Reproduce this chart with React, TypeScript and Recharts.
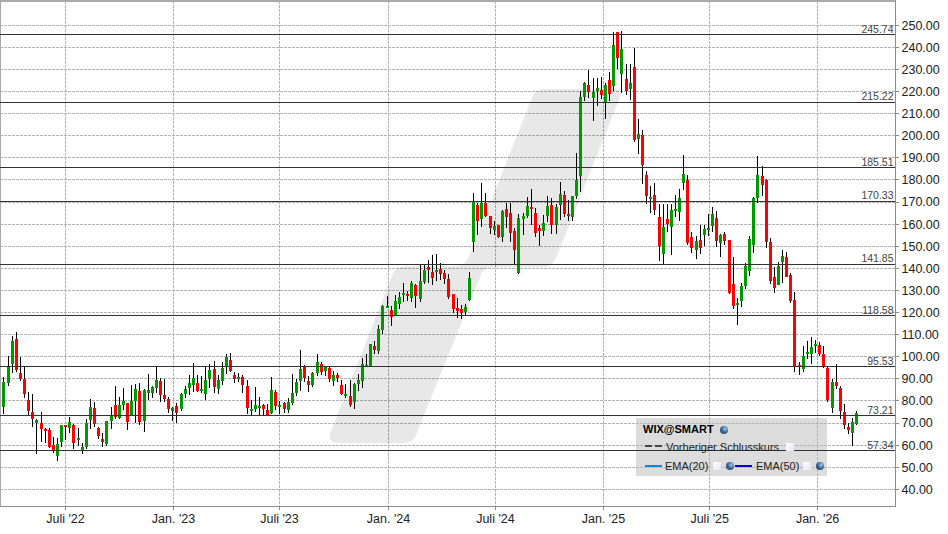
import { Bar, CartesianGrid, ComposedChart, ReferenceArea, ReferenceLine, XAxis, YAxis } from "recharts";

const opens = [
  77.2, 87.9, 96.7, 108.0, 92.6, 89.9, 80.4, 75.0, 70.1, 70.0, 67.3, 66.8, 59.9, 55.1, 61.4, 69.1,
  67.9, 68.9, 62.3, 57.6, 59.0, 71.3, 76.8, 67.9, 62.8, 60.5, 70.9, 78.1, 72.1, 78.1, 79.0, 73.3,
  79.9, 84.6, 70.9, 83.7, 83.6, 85.8, 89.0, 82.7, 80.8, 75.4, 77.7, 76.3, 83.1, 85.8, 87.2, 88.1,
  84.5, 83.1, 89.9, 94.4, 85.4, 89.0, 95.8, 98.5, 91.7, 89.9, 90.8, 86.7, 75.4, 76.3, 76.8, 78.1,
  75.9, 74.5, 84.0, 77.2, 79.0, 75.9, 79.0, 83.6, 89.0, 95.3, 89.0, 87.2, 92.6, 96.7, 93.5, 94.9,
  89.0, 91.7, 87.2, 82.2, 82.2, 79.5, 87.6, 89.0, 95.8, 95.8, 104.8, 102.6, 112.2, 122.1, 121.2, 118.9,
  123.9, 128.0, 128.4, 126.6, 132.5, 126.2, 133.9, 140.7, 138.4, 138.4, 139.7, 137.9, 135.2, 128.4, 122.1, 121.6,
  120.3, 125.7, 152.0, 168.7, 162.4, 169.6, 163.7, 157.4, 159.7, 154.2, 166.9, 165.1, 156.9, 137.9, 162.4, 163.7,
  167.8, 165.1, 158.3, 156.9, 163.7, 168.6, 159.6, 168.6, 173.2, 164.6, 163.2, 172.7, 181.8, 217.5, 222.9, 217.1,
  220.2, 220.7, 214.8, 225.2, 222.5, 246.9, 227.9, 225.7, 221.1, 231.1, 198.5, 200.3, 182.2, 171.4, 173.2, 163.2,
  146.5, 162.3, 158.7, 165.9, 165.5, 178.6, 180.0, 154.2, 148.3, 152.8, 155.1, 157.3, 159.1, 162.8, 151.5, 155.5,
  152.8, 132.9, 123.4, 125.2, 132.0, 138.8, 150.5, 171.8, 181.8, 180.0, 151.9, 136.1, 132.4, 142.9, 145.1, 137.0,
  125.7, 96.2, 94.4, 101.2, 101.2, 104.8, 105.3, 101.2, 94.9, 76.8, 88.5, 85.8, 75.0, 68.2, 65.5, 69.5,
];

const highs = [
  91.0, 100.3, 109.3, 111.0, 100.0, 95.5, 83.9, 83.1, 71.8, 75.0, 67.6, 67.7, 63.5, 63.1, 69.1, 69.1,
  72.7, 69.4, 67.9, 60.9, 71.6, 80.7, 79.5, 68.0, 65.3, 70.9, 77.1, 86.9, 81.9, 85.8, 79.0, 87.2,
  87.6, 87.9, 85.2, 92.2, 86.7, 95.6, 90.2, 89.9, 81.9, 77.4, 78.9, 83.6, 86.9, 91.7, 97.1, 91.7,
  91.3, 95.2, 96.5, 98.0, 91.7, 97.7, 101.1, 101.7, 93.1, 92.6, 91.7, 89.4, 80.4, 86.3, 81.8, 78.6,
  78.6, 90.8, 84.9, 79.9, 79.5, 81.3, 92.2, 89.9, 103.0, 96.2, 91.3, 93.2, 101.2, 97.6, 95.8, 95.3,
  93.5, 92.6, 89.4, 87.6, 89.4, 88.1, 92.2, 99.4, 101.2, 105.7, 107.1, 114.4, 123.5, 127.5, 123.0, 128.0,
  129.3, 133.4, 129.8, 134.3, 133.0, 141.6, 141.6, 143.8, 146.1, 146.5, 142.5, 139.3, 137.5, 128.4, 126.6, 123.5,
  123.9, 138.4, 174.1, 169.6, 178.7, 174.1, 163.7, 161.5, 159.7, 166.4, 169.6, 169.6, 158.3, 164.6, 165.1, 172.3,
  175.9, 167.3, 159.7, 164.1, 172.7, 171.8, 169.1, 179.0, 175.0, 170.9, 172.7, 192.2, 220.2, 224.3, 229.7, 226.1,
  226.1, 226.6, 223.8, 228.8, 246.9, 246.9, 247.4, 232.4, 232.4, 239.7, 207.6, 202.6, 184.0, 177.2, 178.6, 169.1,
  169.1, 169.1, 169.1, 173.2, 175.9, 191.3, 182.2, 156.4, 154.6, 159.6, 159.6, 164.6, 167.7, 165.9, 155.5, 156.4,
  152.8, 145.1, 126.6, 133.4, 142.4, 154.6, 172.3, 190.8, 186.3, 180.4, 153.7, 140.6, 142.9, 148.3, 147.4, 137.9,
  129.3, 97.6, 104.8, 107.1, 108.9, 107.5, 106.6, 104.8, 95.8, 89.9, 96.7, 86.7, 78.6, 70.0, 72.3, 75.4,
];

const lows = [
  73.9, 86.7, 92.8, 93.2, 89.1, 81.5, 73.6, 68.0, 56.0, 61.4, 60.8, 58.8, 56.6, 53.0, 59.0, 62.3,
  65.6, 58.4, 59.6, 56.0, 58.1, 67.4, 68.3, 62.6, 59.3, 59.6, 67.4, 72.0, 72.0, 75.9, 66.7, 73.0,
  70.1, 69.2, 65.9, 80.4, 81.3, 83.4, 79.5, 79.5, 74.7, 70.9, 70.1, 75.6, 81.1, 82.8, 84.2, 83.9,
  83.4, 80.4, 85.7, 83.6, 83.3, 87.2, 92.2, 92.9, 88.2, 88.7, 83.6, 74.1, 73.6, 75.0, 73.6, 73.6,
  73.2, 74.1, 75.9, 74.1, 74.5, 74.5, 78.1, 82.2, 84.5, 88.5, 84.0, 86.1, 91.3, 91.7, 91.3, 88.5,
  86.7, 88.5, 82.7, 81.3, 77.2, 76.3, 84.5, 85.8, 95.3, 95.5, 101.2, 101.3, 110.3, 122.1, 114.0, 118.5,
  121.6, 124.8, 125.3, 124.8, 122.1, 124.8, 133.0, 133.4, 132.5, 134.3, 134.8, 133.0, 126.2, 119.7, 117.6, 117.1,
  118.5, 125.3, 147.4, 155.1, 158.7, 163.3, 155.6, 155.1, 153.8, 152.0, 158.3, 152.0, 141.6, 137.5, 155.1, 162.8,
  159.7, 154.2, 150.2, 154.6, 161.0, 155.5, 155.5, 161.9, 163.2, 161.4, 161.4, 171.4, 174.5, 215.7, 217.1, 206.7,
  213.4, 216.6, 207.6, 215.7, 220.2, 230.2, 219.3, 218.4, 216.2, 197.2, 191.7, 178.1, 169.1, 165.0, 164.1, 143.3,
  142.0, 156.4, 146.0, 163.2, 161.4, 175.4, 150.5, 146.9, 144.2, 146.5, 150.1, 154.6, 156.4, 149.6, 145.1, 150.5,
  128.4, 121.6, 114.4, 122.5, 130.6, 136.5, 146.9, 169.5, 172.7, 149.2, 132.9, 128.8, 132.4, 133.4, 136.1, 124.3,
  93.1, 91.7, 93.1, 98.9, 96.7, 101.7, 100.3, 94.9, 79.5, 74.5, 85.4, 71.8, 67.3, 65.0, 59.6, 69.1,
];

const closes = [
  88.5, 95.5, 107.1, 94.0, 89.9, 83.1, 75.4, 71.8, 71.3, 67.3, 66.4, 59.1, 57.8, 60.5, 68.9, 68.2,
  70.4, 61.1, 63.2, 59.1, 70.1, 77.2, 69.5, 64.1, 61.4, 70.9, 73.5, 72.6, 78.1, 79.9, 70.6, 79.9,
  85.2, 70.4, 85.1, 85.1, 86.3, 89.4, 82.7, 80.8, 76.3, 76.9, 74.5, 83.1, 85.4, 88.1, 90.3, 84.5,
  85.4, 89.4, 94.0, 86.3, 89.4, 94.9, 99.8, 93.5, 89.9, 90.8, 87.3, 76.8, 76.3, 78.1, 77.7, 76.3,
  73.6, 84.9, 77.7, 78.1, 76.3, 79.5, 83.6, 88.5, 94.4, 90.3, 87.2, 92.6, 97.6, 93.1, 95.3, 89.9,
  91.7, 90.3, 83.1, 83.1, 78.1, 87.6, 89.4, 96.7, 96.2, 105.7, 103.0, 112.6, 123.0, 123.0, 118.0, 125.3,
  127.1, 128.9, 127.5, 133.4, 127.5, 134.3, 139.3, 139.3, 135.7, 139.3, 137.5, 135.2, 127.1, 121.6, 120.7, 119.8,
  122.6, 135.7, 170.4, 161.5, 169.6, 163.7, 158.3, 159.2, 154.2, 166.0, 163.3, 156.0, 148.3, 162.8, 163.7, 168.2,
  166.9, 156.0, 156.9, 160.5, 168.2, 159.6, 167.7, 173.6, 164.6, 163.7, 172.7, 180.0, 217.5, 223.8, 219.8, 219.8,
  221.6, 218.4, 222.9, 218.9, 241.0, 235.2, 239.2, 220.2, 223.8, 198.1, 200.8, 186.7, 172.7, 172.3, 166.4, 150.1,
  158.7, 160.0, 166.4, 166.8, 171.8, 182.7, 151.5, 149.2, 152.4, 149.2, 157.8, 158.2, 164.6, 152.4, 155.1, 152.4,
  128.8, 123.0, 124.3, 132.0, 141.0, 153.3, 171.8, 182.2, 177.7, 151.9, 134.3, 131.1, 141.0, 145.6, 136.1, 125.2,
  95.8, 95.3, 100.3, 102.1, 104.4, 105.7, 101.2, 95.8, 80.4, 88.5, 86.7, 75.4, 69.1, 66.8, 70.4, 74.5,
];

const levels = [245.74, 215.22, 185.51, 170.33, 141.85, 118.58, 95.53, 73.21, 57.34];
const priceTicks = [
  40, 50, 60, 70, 80, 90, 100, 110, 120, 130, 140, 150, 160, 170, 180, 190, 200, 210, 220, 230, 240, 250,
];
const dateTicks = [15.05, 41.26, 66.99, 93.45, 119.4, 145.6, 171.4, 197.6];
const dateLabels = ["Juli '22", "Jan. '23", "Juli '23", "Jan. '24", "Juli '24", "Jan. '25", "Juli '25", "Jan. '26"];

const xDomain = [-0.85, 216.5];
const yDomain = [32.22, 261.18];
const font = '"Liberation Sans", Arial, sans-serif';

const candles = opens.map((open, i) => ({
  index: i,
  open,
  high: highs[i],
  low: lows[i],
  close: closes[i],
  range: [lows[i], highs[i]],
}));

function Candle(props: any) {
  const { x, y, width, height, payload } = props;
  const perUnit = height / (payload.high - payload.low);
  const top = y + (payload.high - Math.max(payload.open, payload.close)) * perUnit;
  const bottom = y + (payload.high - Math.min(payload.open, payload.close)) * perUnit;
  const cx = Math.floor(x + width / 2);
  const color = payload.close >= payload.open ? "#009900" : "#ff0000";
  return (
    <g>
      <rect x={cx} y={y} width={1} height={height} fill="#000" />
      <rect x={cx - 1} y={top} width={3} height={Math.max(bottom - top, 2)} fill={color} />
    </g>
  );
}

// grey watermark behind the candles, scaled into the reference area it sits in
function Watermark(props: any) {
  const { x, y, width, height } = props;
  const sx = width / 292;
  const sy = height / 354;
  return (
    <path
      transform={`translate(${x} ${y}) scale(${sx} ${sy})`}
      shapeRendering="auto"
      fill="#000"
      fillOpacity={0.09}
      d="M204 6 Q208 0 214 0 L284 0 Q294 0 291 8 L227 169 Q223 178 214 178 L163 178 Q154 178 151 188 L86 348 Q83 354 74 354 L9 354 Q-2 354 1 344 L64 184 Q67 177 78 177 L126 177 Q135 177 139 169 Z"
    />
  );
}

function Check({ left, top }: { left: number; top: number }) {
  return (
    <div
      style={{
        position: "absolute",
        left,
        top,
        width: 8,
        height: 8,
        background: "linear-gradient(135deg, #ffffff, #e4e4f4)",
      }}
    />
  );
}

function Globe({ left, top }: { left: number; top: number }) {
  return (
    <div
      style={{
        position: "absolute",
        left,
        top,
        width: 8,
        height: 8,
        borderRadius: "50%",
        background: "radial-gradient(circle at 65% 35%, #a8c8e8, #3a6a9a 45%, #1c3048)",
      }}
    />
  );
}

// the grey box sits under the chart, its contents on top of it
function LegendBackground() {
  return <div style={{ position: "absolute", left: 636, top: 418, width: 191, height: 58, background: "#dcdcdc" }} />;
}

function LegendContent() {
  const label = { position: "absolute", fontSize: 11, lineHeight: "14px", color: "#222", whiteSpace: "nowrap" } as const;
  return (
    <div style={{ position: "absolute", left: 636, top: 418, width: 191, height: 58, fontFamily: font }}>
      <div style={{ ...label, left: 7, top: 4, fontWeight: 700, color: "#000" }}>WIX@SMART</div>
      <Globe left={84} top={8} />
      <div style={{ position: "absolute", left: 9, top: 27, width: 7, height: 2, background: "#444" }} />
      <div style={{ position: "absolute", left: 19, top: 27, width: 7, height: 2, background: "#444" }} />
      <div style={{ ...label, left: 30, top: 22 }}>Vorheriger Schlusskurs</div>
      <Check left={150} top={25} />
      <div style={{ position: "absolute", left: 9, top: 47, width: 17, height: 2, background: "#0a8ad8" }} />
      <div style={{ ...label, left: 29, top: 41 }}>EMA(20)</div>
      <Check left={77} top={44} />
      <Globe left={90} top={44} />
      <div style={{ position: "absolute", left: 99, top: 47, width: 17, height: 2, background: "#0000e0" }} />
      <div style={{ ...label, left: 120, top: 41 }}>EMA(50)</div>
      <Check left={167} top={44} />
      <Globe left={180} top={44} />
    </div>
  );
}

export default function App() {
  return (
    <div style={{ position: "absolute", left: 0, top: 0, width: 948, height: 534, background: "#fff", overflow: "hidden" }}>
      <LegendBackground />
      <div style={{ position: "absolute", left: 0, top: 0 }}>
        <ComposedChart
          width={948}
          height={534}
          data={candles}
          margin={{ top: 0.5, right: 0, bottom: 0, left: 0 }}
          style={{ shapeRendering: "crispEdges" }}
        >
          <CartesianGrid stroke="#b4b4b4" strokeDasharray="3 1" />
          <ReferenceArea x1={79.05} x2={149.9} y1={60.95} y2={221.1} shape={<Watermark />} />
          <XAxis
            dataKey="index"
            type="number"
            domain={xDomain}
            ticks={dateTicks}
            height={27.5}
            interval={0}
            allowDataOverflow
            tickFormatter={(value) => dateLabels[dateTicks.indexOf(value)]}
            stroke="#8c8c8c"
            tickSize={3}
            tickMargin={5}
            tick={{ fill: "#222", fontSize: 12.5, fontFamily: font }}
          />
          <YAxis
            orientation="right"
            type="number"
            domain={yDomain}
            ticks={priceTicks}
            interval={0}
            allowDataOverflow
            width={52.5}
            tickFormatter={(value) => value.toFixed(2)}
            stroke="#8c8c8c"
            tickSize={3}
            tickMargin={3}
            tick={{ fill: "#222", fontSize: 12.5, fontFamily: font }}
          />
          <ReferenceLine x={xDomain[0]} stroke="#aaaaaa" strokeWidth={2} />
          <ReferenceLine y={yDomain[1]} stroke="#aaaaaa" strokeWidth={2} />
          {levels.map((level) => (
            <ReferenceLine
              key={level}
              y={level}
              stroke="#333"
              label={{
                value: level.toFixed(2),
                position: "insideBottomRight",
                offset: 2,
                fill: "#444",
                fontSize: 10.5,
                fontFamily: font,
              }}
            />
          ))}
          <Bar dataKey="range" barSize={3} shape={<Candle />} isAnimationActive={false} />
        </ComposedChart>
      </div>
      <LegendContent />
    </div>
  );
}
